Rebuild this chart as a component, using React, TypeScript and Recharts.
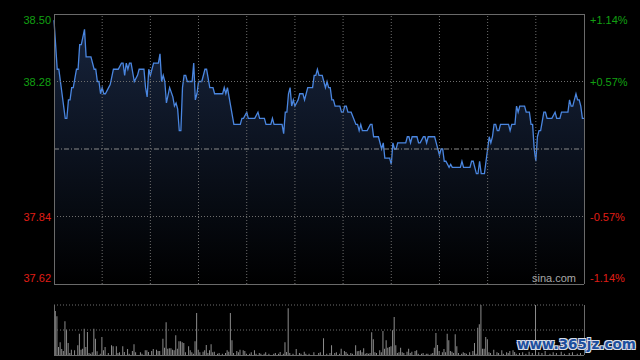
import React from "react";
import {
  ComposedChart,
  Area,
  BarChart,
  Bar,
  XAxis,
  YAxis,
  ReferenceLine,
} from "recharts";

// minutes since the open (HK session, 330 trading minutes) and last price
const pricePoints: [number, number][] = [
  [0, 38.48], [2, 38.32], [3, 38.32], [7, 38.16], [8, 38.16], [9, 38.22], [10, 38.22],
  [11, 38.26], [12, 38.26], [14, 38.32], [15, 38.32], [16, 38.4], [17, 38.4], [19, 38.45],
  [20, 38.36], [23, 38.36], [25, 38.32], [26, 38.32], [27, 38.28], [28, 38.28], [29, 38.24],
  [30, 38.26], [31, 38.24], [32, 38.24], [34, 38.26], [35, 38.27], [37, 38.32], [40, 38.32],
  [42, 38.34], [43, 38.34], [44, 38.3], [45, 38.34], [46, 38.32], [47, 38.34], [48, 38.34],
  [50, 38.28], [52, 38.3], [53, 38.32], [56, 38.32], [57, 38.26], [58, 38.23], [59, 38.32],
  [60, 38.3], [62, 38.34], [65, 38.34], [66, 38.37], [67, 38.28], [68, 38.3], [69, 38.28],
  [70, 38.21], [72, 38.26], [74, 38.23], [75, 38.2], [76, 38.21], [77, 38.19], [78, 38.12],
  [79, 38.12], [80, 38.26], [81, 38.3], [82, 38.3], [83, 38.28], [86, 38.28], [87, 38.34],
  [88, 38.22], [89, 38.24], [90, 38.28], [92, 38.28], [94, 38.32], [95, 38.32], [97, 38.26],
  [99, 38.26], [100, 38.24], [105, 38.24], [106, 38.26], [107, 38.24], [108, 38.26],
  [110, 38.2], [112, 38.14], [116, 38.14], [117, 38.16], [118, 38.16], [120, 38.18],
  [121, 38.16], [125, 38.16], [127, 38.18], [128, 38.16], [131, 38.16], [132, 38.14],
  [135, 38.14], [136, 38.16], [137, 38.14], [142, 38.14], [143, 38.11], [144, 38.18],
  [145, 38.18], [146, 38.24], [147, 38.26], [148, 38.2], [149, 38.22], [150, 38.2],
  [151, 38.21], [152, 38.22], [153, 38.24], [155, 38.24], [156, 38.22], [158, 38.26],
  [161, 38.26], [162, 38.3], [163, 38.3], [164, 38.32], [165, 38.3], [167, 38.3],
  [168, 38.28], [169, 38.26], [170, 38.28], [171, 38.26], [172, 38.26], [173, 38.22],
  [174, 38.22], [175, 38.2], [178, 38.2], [179, 38.18], [180, 38.18], [181, 38.2],
  [182, 38.2], [183, 38.18], [185, 38.18], [188, 38.14], [189, 38.14], [190, 38.12],
  [191, 38.14], [192, 38.12], [195, 38.12], [197, 38.14], [198, 38.14], [199, 38.1],
  [202, 38.1], [204, 38.06], [205, 38.08], [206, 38.03], [209, 38.03], [210, 38.01],
  [211, 38.08], [212, 38.06], [213, 38.06], [214, 38.08], [219, 38.08], [220, 38.1],
  [221, 38.1], [222, 38.08], [223, 38.1], [226, 38.1], [227, 38.08], [228, 38.08],
  [230, 38.1], [231, 38.1], [232, 38.08], [233, 38.1], [237, 38.1], [238, 38.08],
  [240, 38.04], [241, 38.06], [242, 38.06], [243, 38.02], [244, 38.02], [246, 38.0],
  [247, 38.01], [248, 38.0], [253, 38.0], [254, 38.02], [255, 38.0], [259, 38.0],
  [260, 38.02], [261, 38.02], [262, 38.0], [263, 37.98], [264, 37.98], [265, 38.02],
  [266, 37.98], [268, 37.98], [269, 38.02], [270, 38.06], [271, 38.1], [272, 38.08],
  [273, 38.1], [274, 38.14], [275, 38.14], [276, 38.12], [277, 38.12], [278, 38.14],
  [283, 38.14], [284, 38.12], [285, 38.14], [287, 38.14], [288, 38.2], [289, 38.18],
  [290, 38.2], [293, 38.2], [294, 38.18], [296, 38.18], [297, 38.14], [298, 38.14],
  [299, 38.06], [300, 38.02], [301, 38.1], [302, 38.12], [303, 38.12], [305, 38.18],
  [306, 38.18], [307, 38.16], [310, 38.16], [312, 38.18], [313, 38.16], [315, 38.16],
  [316, 38.18], [320, 38.18], [321, 38.22], [322, 38.2], [323, 38.2], [324, 38.22],
  [325, 38.24], [326, 38.22], [327, 38.22], [328, 38.2], [329, 38.16], [330, 38.16],
];

// minute, volume (thousand shares)
const volumeBars: [number, number][] = [
  [1, 176], [2, 155], [3, 32], [4, 51], [5, 24], [6, 16], [7, 135], [8, 101], [9, 48], [10, 8],
  [11, 21], [13, 19], [15, 39], [16, 85], [17, 21], [18, 25], [19, 105], [20, 32], [21, 92],
  [22, 8], [23, 5], [24, 11], [25, 105], [26, 65], [27, 15], [29, 5], [30, 72], [31, 19],
  [32, 32], [34, 8], [36, 39], [37, 35], [39, 35], [40, 8], [41, 11], [43, 35], [44, 12],
  [46, 24], [47, 5], [49, 16], [50, 43], [51, 11], [54, 11], [55, 5], [57, 19], [58, 19],
  [59, 12], [61, 16], [62, 24], [64, 21], [65, 16], [66, 16], [68, 65], [69, 29], [70, 131],
  [71, 25], [72, 27], [73, 27], [74, 21], [75, 19], [76, 79], [77, 25], [78, 55], [79, 55],
  [80, 51], [81, 48], [82, 11], [84, 35], [85, 19], [86, 11], [87, 5], [88, 55], [89, 168],
  [90, 21], [91, 11], [93, 13], [94, 19], [95, 40], [96, 8], [97, 19], [98, 43], [99, 11],
  [100, 13], [102, 5], [103, 8], [105, 5], [107, 8], [108, 19], [109, 13], [110, 168],
  [111, 59], [112, 8], [114, 16], [115, 11], [116, 21], [118, 19], [119, 16], [120, 5],
  [122, 5], [123, 11], [125, 19], [126, 5], [128, 8], [129, 5], [131, 5], [132, 11],
  [134, 5], [137, 5], [138, 8], [140, 5], [141, 12], [143, 5], [144, 51], [145, 12],
  [146, 187], [147, 8], [149, 5], [151, 24], [153, 8], [154, 5], [156, 13], [157, 5],
  [159, 5], [162, 11], [165, 8], [166, 11], [168, 67], [170, 5], [172, 8], [173, 39],
  [175, 8], [176, 11], [178, 5], [179, 25], [181, 16], [182, 12], [183, 5], [185, 8],
  [186, 5], [188, 39], [189, 15], [190, 16], [191, 19], [192, 11], [193, 27], [194, 5],
  [195, 8], [196, 5], [197, 8], [198, 91], [199, 63], [200, 11], [201, 8], [203, 19],
  [204, 11], [205, 96], [206, 25], [207, 59], [208, 29], [209, 32], [210, 35], [211, 99],
  [212, 152], [213, 39], [214, 8], [215, 11], [216, 29], [217, 11], [218, 8], [220, 13],
  [221, 25], [222, 8], [223, 13], [225, 16], [226, 19], [227, 5], [229, 5], [230, 8],
  [232, 5], [233, 5], [235, 5], [236, 8], [237, 29], [238, 88], [239, 40], [240, 16],
  [242, 11], [243, 24], [244, 11], [245, 85], [246, 59], [247, 16], [248, 13], [249, 8],
  [250, 83], [251, 35], [252, 8], [254, 5], [255, 11], [256, 8], [257, 5], [259, 11],
  [261, 16], [262, 48], [263, 5], [264, 109], [265, 123], [266, 260], [267, 25], [268, 25],
  [269, 72], [270, 63], [271, 11], [272, 8], [274, 21], [276, 11], [277, 8], [279, 19],
  [280, 5], [282, 11], [283, 8], [284, 16], [286, 19], [287, 12], [288, 5], [290, 8],
  [292, 11], [294, 5], [296, 13], [298, 8], [300, 260], [302, 11], [304, 8], [306, 16],
  [309, 5], [311, 11], [313, 8], [316, 13], [318, 5], [321, 8], [323, 11], [326, 5], [328, 8],
];

const prevClose = 38.06;
const priceTicks = [37.62, 37.84, 38.28, 38.5];
const pctLabels = ["-1.14%", "-0.57%", "+0.57%", "+1.14%"];
const timeTicks = [30, 60, 90, 120, 150, 180, 210, 240, 270, 300];
const volGrid = [100, 200];

const priceData = pricePoints.map(([t, p]) => ({ t, p }));
const volData = volumeBars.map(([t, v]) => ({ t, v }));

const FONT = "'Liberation Sans', Arial, sans-serif";
const GRID = "#6e6e6e";
const BORDER = "#6a6a6a";

// top label sits under the top border, bottom label above the bottom border
const tickDy = (v: number) =>
  v === priceTicks[priceTicks.length - 1] ? 10 : v === priceTicks[0] ? -2 : 4;

const LeftTick = (props: any) => {
  const { x, y, payload } = props;
  const v = payload.value as number;
  return (
    <text x={x} y={y} dy={tickDy(v)} textAnchor="end" fontSize={11} fontFamily={FONT}
      fill={v > prevClose ? "#12a012" : "#e01e16"}>
      {v.toFixed(2)}
    </text>
  );
};

const RightTick = (props: any) => {
  const { x, y, payload } = props;
  const v = payload.value as number;
  const i = priceTicks.findIndex((p) => Math.abs(p - v) < 0.001);
  return (
    <text x={x} y={y} dy={tickDy(v)} textAnchor="start" fontSize={11} fontFamily={FONT}
      fill={v > prevClose ? "#12a012" : "#e01e16"}>
      {pctLabels[i]}
    </text>
  );
};

export default function App() {
  return (
    <div style={{ position: "absolute", left: 0, top: 0, width: 640, height: 360, background: "#000", overflow: "hidden" }}>
      <div style={{ position: "absolute", left: 0, top: 0 }}>
        <ComposedChart width={640} height={290} data={priceData}
          margin={{ top: 14, right: 0, bottom: 6, left: 0 }}>
          <defs>
            <linearGradient id="pfill" x1="0" y1="0" x2="0" y2="1">
              <stop offset="0%" stopColor="#17243d" />
              <stop offset="100%" stopColor="#000000" />
            </linearGradient>
          </defs>
          <XAxis dataKey="t" type="number" domain={[0, 330]}
            tick={false} axisLine={false} tickLine={false} height={0} />
          <YAxis yAxisId="l" domain={[37.62, 38.5]} ticks={priceTicks} interval={0} width={54}
            axisLine={false} tickLine={false} tickSize={0} tickMargin={3} tick={<LeftTick />} />
          <YAxis yAxisId="r" orientation="right" domain={[37.62, 38.5]} ticks={priceTicks} interval={0} width={56}
            axisLine={false} tickLine={false} tickSize={0} tickMargin={6} tick={<RightTick />} />
          <Area yAxisId="l" type="linear" dataKey="p" stroke="#4a86e0" strokeWidth={1.3}
            fill="url(#pfill)" fillOpacity={1} dot={false} activeDot={false}
            isAnimationActive={false} />
          <Area yAxisId="r" type="linear" dataKey="p" stroke="none" fill="none"
            dot={false} activeDot={false} isAnimationActive={false} />
          {timeTicks.map((t) => (
            <ReferenceLine key={`vx-${t}`} yAxisId="l" x={t} stroke={GRID} strokeDasharray="1 2" />
          ))}
          {priceTicks.slice(1, -1).map((p) => (
            <ReferenceLine key={`hy-${p}`} yAxisId="l" y={p} stroke={GRID} strokeDasharray="1 2" />
          ))}
          <ReferenceLine yAxisId="l" y={prevClose} stroke="#8a8a8a" strokeDasharray="5 2 1 2" />
          <ReferenceLine yAxisId="l" y={38.5} stroke={BORDER} shapeRendering="crispEdges" />
          <ReferenceLine yAxisId="l" y={37.62} stroke={BORDER} shapeRendering="crispEdges" />
          <ReferenceLine yAxisId="l" x={0} stroke={BORDER} shapeRendering="crispEdges" />
          <ReferenceLine yAxisId="l" x={330} stroke={BORDER} shapeRendering="crispEdges" />
        </ComposedChart>
      </div>
      <div style={{ position: "absolute", left: 532, top: 272, fontFamily: FONT, fontSize: 11, color: "#a8a8a8" }}>
        sina.com
      </div>
      <div style={{ position: "absolute", left: 0, top: 290 }}>
        <BarChart width={640} height={70} data={volData}
          margin={{ top: 15, right: 0, bottom: 5, left: 0 }}>
          <XAxis dataKey="t" type="number" domain={[0, 330]} tick={false}
            axisLine={false} tickLine={false} height={0} />
          <YAxis yAxisId="l" domain={[0, 200]} allowDataOverflow width={54}
            tick={false} axisLine={false} tickLine={false} />
          <YAxis yAxisId="r" orientation="right" domain={[0, 200]} width={56}
            tick={false} axisLine={false} tickLine={false} />
          {volGrid.map((v) => (
            <ReferenceLine key={`vg-${v}`} yAxisId="l" y={v} stroke={GRID} strokeDasharray="1 2" />
          ))}
          <Bar yAxisId="l" dataKey="v" fill="#8c8c8c" barSize={1} isAnimationActive={false} />
          <ReferenceLine yAxisId="l" y={0} stroke={BORDER} shapeRendering="crispEdges" />
          <ReferenceLine yAxisId="l" x={0} stroke={BORDER} shapeRendering="crispEdges" />
          <ReferenceLine yAxisId="l" x={330} stroke={BORDER} shapeRendering="crispEdges" />
        </BarChart>
      </div>
      <div style={{
        position: "absolute", left: 517, top: 336, fontFamily: "'DejaVu Sans', sans-serif",
        fontSize: 13.5, fontWeight: "bold", color: "#1d4f9e", whiteSpace: "nowrap",
        textShadow: "1px 1px 0 #d8dde6, -1px -1px 0 #d8dde6, 1px -1px 0 #d8dde6, -1px 1px 0 #d8dde6",
      }}>
        www.365jz.com
      </div>
    </div>
  );
}
